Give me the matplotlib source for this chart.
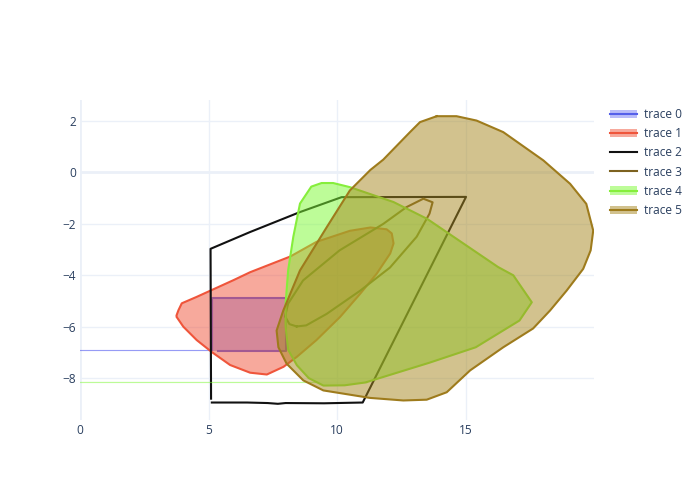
import matplotlib
matplotlib.use("Agg")
import matplotlib.pyplot as plt
from matplotlib.lines import Line2D
from matplotlib.patches import Patch

plt.rcParams['font.family'] = ['Open Sans', 'DejaVu Sans']

# trace 0: small rectangle, fill to x=0
t0_x = [5.12, 5.12, 8.0, 8.0, 5.38]
t0_y = [-6.9, -4.89, -4.89, -6.93, -6.93]

# trace 1: red blob, fill toself
t1_x = [3.76, 3.83, 3.96, 4.54, 5.97, 6.62, 8.18, 9.2, 10.5, 11.3, 11.93, 12.13, 12.2, 12.07,
        11.55, 10.9, 10.12, 9.2, 8.44, 7.92, 7.27, 6.62, 5.84, 5.12, 4.54, 4.02, 3.76]
t1_y = [-5.55, -5.36, -5.09, -4.84, -4.19, -3.88, -3.27, -2.7, -2.27, -2.14, -2.21, -2.37, -2.76, -3.15,
        -3.93, -4.72, -5.62, -6.52, -7.17, -7.56, -7.86, -7.79, -7.49, -6.98, -6.52, -6.0, -5.62]

# trace 2: black outline, no fill
t2_x = [5.13, 6.5, 7.3, 7.7, 8.0, 9.5, 11.0, 15.02, 10.18, 8.56, 6.61, 5.08, 5.1]
t2_y = [-8.95, -8.95, -8.97, -9.0, -8.97, -8.98, -8.95, -0.95, -0.96, -1.54, -2.32, -2.97, -8.8]

# trace 3: thin ellipse outline, no fill
t3_x = [8.43, 8.15, 7.98, 8.1, 8.68, 10.1, 11.8, 12.7, 13.36, 13.72, 13.6, 13.1, 12.06, 10.9, 9.6, 8.8, 8.43]
t3_y = [-5.99, -5.9, -5.6, -5.1, -4.2, -3.03, -2.0, -1.35, -1.02, -1.16, -1.6, -2.5, -3.7, -4.6, -5.5, -5.95, -5.99]

# trace 4: green blob, fill to x=0
t4_x = [11.17, 13.6, 15.4, 17.1, 17.58, 16.86, 16.27, 14.9, 13.5, 12.2, 10.5, 9.85, 9.4, 9.0, 8.56,
        8.3, 8.1, 8.0, 8.0, 8.1, 8.44, 8.9, 9.47, 10.3, 11.1]
t4_y = [-8.15, -7.4, -6.8, -5.76, -5.05, -4.0, -3.68, -2.75, -1.8, -1.15, -0.57, -0.41, -0.41, -0.55, -1.21,
        -2.5, -3.8, -5.1, -6.0, -6.9, -7.5, -8.0, -8.29, -8.28, -8.17]

# trace 5: tan blob, fill toself
t5_x = [13.88, 14.65, 15.43, 16.47, 18.03, 19.07, 19.7, 19.97, 19.87, 19.58, 18.94, 18.29, 17.63,
        16.47, 15.18, 14.27, 13.49, 12.58, 11.28, 9.47, 8.69, 8.04, 7.72, 7.65, 7.91, 8.56, 9.6,
        10.5, 11.3, 11.8, 12.84, 13.23, 13.88]
t5_y = [2.19, 2.19, 2.02, 1.57, 0.47, -0.44, -1.22, -2.26, -3.03, -3.75, -4.59, -5.37, -6.07,
        -6.8, -7.7, -8.55, -8.84, -8.87, -8.77, -8.48, -8.09, -7.44, -6.8, -6.15, -5.37, -3.81, -2.13,
        -0.7, 0.1, 0.5, 1.57, 1.96, 2.19]

names = ['trace 0', 'trace 1', 'trace 2', 'trace 3', 'trace 4', 'trace 5']
line_colors = ['#5560ea', '#ef553b', '#111111', '#7d6220', '#86ee3c', '#9e7b1c']
fill_colors = [(0.33, 0.36, 0.94, 0.4), (0.94, 0.33, 0.23, 0.5), None, None,
               (0.49, 0.98, 0.2, 0.5), (0.65, 0.53, 0.12, 0.5)]

fig = plt.figure(figsize=(7, 5), dpi=100)
ax = fig.add_axes([80 / 700, 80 / 500, 514 / 700, 320 / 500])

grid_c = '#ebf0f8'
for v in [5, 10, 15]:
    ax.axvline(v, color=grid_c, lw=1, zorder=0)
for v in [2, -2, -4, -6, -8]:
    ax.axhline(v, color=grid_c, lw=1, zorder=0)
ax.axvline(0, color=grid_c, lw=2, zorder=0)
ax.axhline(0, color=grid_c, lw=2, zorder=0)

traces = [(t0_x, t0_y), (t1_x, t1_y), (t2_x, t2_y), (t3_x, t3_y), (t4_x, t4_y), (t5_x, t5_y)]
to_zero_x = [True, False, False, False, True, False]

for i, (xs, ys) in enumerate(traces):
    z = 1 + i
    if fill_colors[i] is not None:
        if to_zero_x[i]:
            # fill toward x=0 leaves a hairline back to the axis
            fx = [0] + xs + [0]
            fy = [ys[0]] + ys + [ys[-1]]
            ax.fill(fx, fy, facecolor=fill_colors[i], edgecolor='none', zorder=z)
            faint = fill_colors[i][:3] + (0.35,)
            ax.plot([0, xs[0]], [ys[0], ys[0]], color=faint, lw=0.9, zorder=z)
        else:
            ax.fill(xs, ys, facecolor=fill_colors[i], edgecolor='none', zorder=z)
    ax.plot(xs, ys, color=line_colors[i], lw=1.5, zorder=z + 0.5, solid_joinstyle='round')

ax.set_xlim(0, 20)
ax.set_ylim(-9.63, 2.82)
ax.set_xticks([0, 5, 10, 15])
ax.set_yticks([2, 0, -2, -4, -6, -8])
ax.tick_params(axis='x', length=0, labelsize=8.6, labelcolor='#2a3f5f', pad=3)
ax.tick_params(axis='y', length=0, labelsize=8.6, labelcolor='#2a3f5f', pad=3)
for s in ax.spines.values():
    s.set_visible(False)

handles = []
for i in range(6):
    ln = Line2D([], [], color=line_colors[i], lw=1.5)
    if fill_colors[i] is not None:
        handles.append((Patch(facecolor=fill_colors[i], edgecolor='none'), ln))
    else:
        handles.append(ln)
fig.legend(handles, names, loc='upper left', bbox_to_anchor=(610 / 700, 1 - 108 / 500),
           frameon=False, fontsize=8.6, labelcolor='#2a3f5f', labelspacing=0.52,
           handlelength=2.3, handletextpad=0.55, borderaxespad=0, borderpad=0)

fig.savefig('out.png', dpi=100)
